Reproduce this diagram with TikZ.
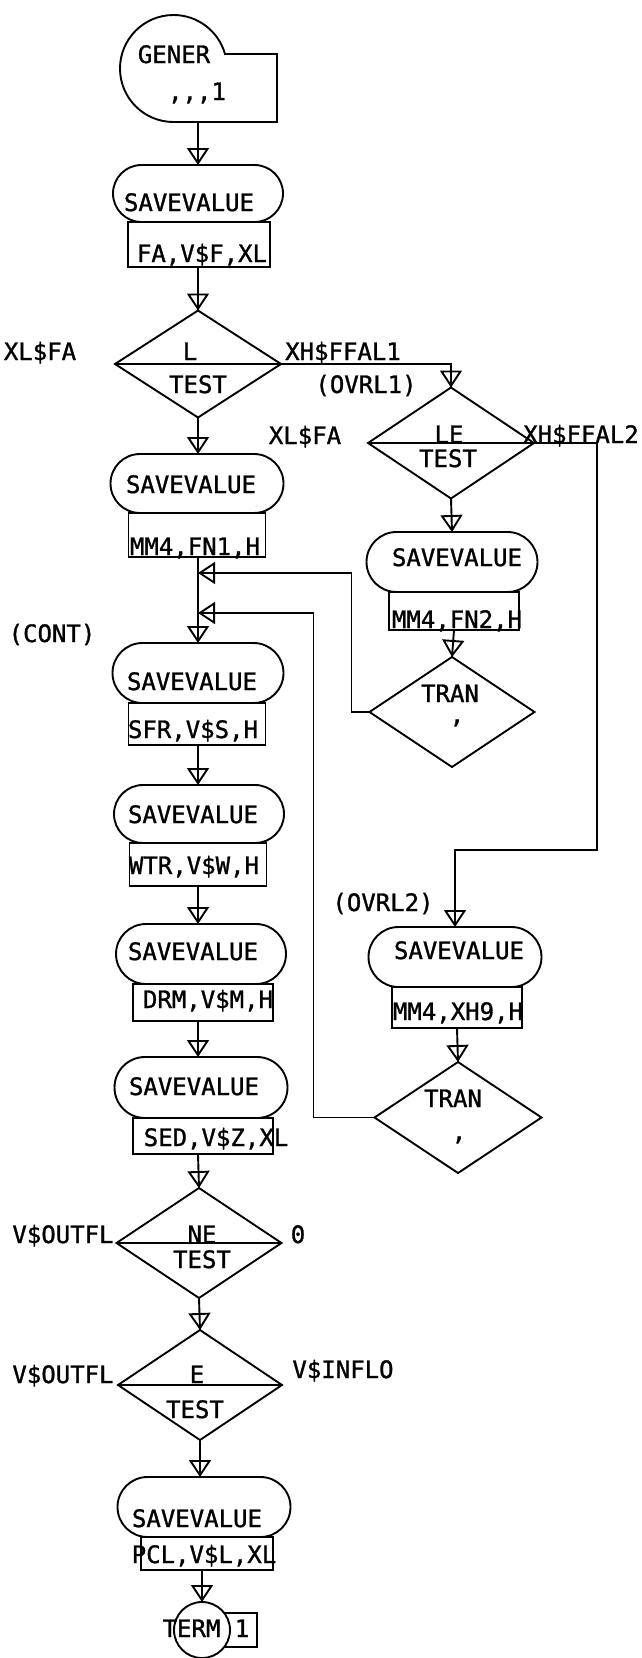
\documentclass[tikz,border=0pt]{standalone}
\usepackage{fontspec}
\newfontfamily\gpssfont[FakeBold=1.2]{DejaVu Sans Mono}
\usetikzlibrary{shapes.geometric,shapes.misc,arrows.meta,decorations.markings}

\begin{document}
\begin{tikzpicture}[x=1pt,y=-1pt,line width=1.9pt,
  every node/.style={inner sep=0pt,outer sep=0pt},
  savebox/.style={draw,rounded rectangle,minimum width=171pt,minimum height=59pt},
  opbox/.style={draw,rectangle,minimum width=137pt,minimum height=42pt},
  testbox/.style={draw,diamond,minimum width=166pt,minimum height=110pt},
  txt/.style={font=\gpssfont\fontsize{24}{28}\selectfont,anchor=base},
  flow/.style={postaction={decorate},decoration={markings,
    mark=at position 1 with {\arrow[line width=1.9pt]{Triangle[open,length=17pt,width=22pt]}}}}]
 \useasboundingbox (0,0) rectangle (641,1658);

 % GENERATE block
 \draw (277,122) -- (173.5,122) arc (90:344.3:53.5) -- (277,54) -- cycle;
 \coordinate (gen) at (198,122);
 \node[txt] (t-gen) at (174,63) {GENER};
 \node[txt] (t-gen2) at (197,100) {,,,1};

 % main column
 \coordinate (main) at (198,0);
 \node[savebox,minimum width=170pt,minimum height=57pt] (sv1) at (198,193.5) {};
 \node[opbox,minimum width=142pt,minimum height=45pt] (op1) at (199,244.5) {};
 \node[testbox,minimum height=107pt] (tL) at (198,364) {};
 \node[savebox,minimum width=173pt] (sv2) at (197,483.5) {};
 \node[opbox,minimum height=44pt] (op2) at (197,535) {};
 \node[savebox,minimum height=60pt] (sv3) at (198,673) {};
 \node[opbox] (op3) at (197,724) {};
 \node[savebox,minimum width=170pt,minimum height=58pt] (sv4) at (199,814) {};
 \node[opbox,minimum height=43pt] (op4) at (198,864.5) {};
 \node[savebox,minimum width=170pt,minimum height=60pt] (sv5) at (201,954) {};
 \node[opbox,minimum width=140pt,minimum height=37pt] (op5) at (203,1002.5) {};
 \node[savebox,minimum width=173pt,minimum height=61pt] (sv6) at (201,1087.5) {};
 \node[opbox,minimum width=140pt,minimum height=36pt] (op6) at (203,1136) {};
 \node[testbox,minimum width=165pt] (tNE) at (199,1243) {};
 \node[testbox,minimum width=164pt] (tE) at (200,1385) {};
 \node[savebox,minimum width=173pt,minimum height=60pt] (sv7) at (204,1507) {};
 \node[opbox,minimum width=132pt,minimum height=33pt] (op7) at (207,1553.5) {};
 \node[draw,minimum width=37pt,minimum height=34pt] (one) at (238.5,1630) {};
 \node[draw,circle,fill=white,minimum size=56pt] (term) at (202,1630) {};
 \coordinate (j1) at (198,573);
 \coordinate (j2) at (198,613);

 % OVRL1 and OVRL2 branches
 \node[testbox,minimum height=111pt] (tLE) at (451,443) {};
 \node[savebox,minimum height=60pt] (sv8) at (452,562) {};
 \node[opbox,minimum width=130pt,minimum height=38pt] (op8) at (454,611) {};
 \node[testbox,minimum width=165pt] (tr1) at (452,712) {};
 \coordinate (k1) at (597,850);
 \node[savebox,minimum width=173pt,minimum height=60pt] (sv9) at (455,957) {};
 \node[opbox,minimum width=130pt,minimum height=41pt] (op9) at (457,1007.5) {};
 \node[testbox,minimum width=167pt,minimum height=111pt] (tr2) at (458,1117.5) {};

 \foreach \t in {tL,tLE,tNE,tE}
   \draw (\t.west) -- (\t.east);

 % flow lines
 \draw[flow] (gen) -- (sv1.north -| gen);
 \draw[flow] (op1.south -| main) -- (tL.north);
 \draw[flow] (tL.south) -- (sv2.north -| main);
 \draw[flow] (op2.south -| main) -- (sv3.north -| main);
 \draw[flow] (op3.south -| main) -- (sv4.north -| main);
 \draw[flow] (op4.south -| main) -- (sv5.north -| main);
 \draw[flow] (op5.south -| main) -- (sv6.north -| main);
 \draw[flow] (op6.south -| main) -- (tNE.north);
 \draw[flow] (tNE.south) -- (tE.north);
 \draw[flow] (tE.south) -- (tE.south |- sv7.north);
 \draw[flow] (term.north |- op7.south) -- (term.north);
 \draw[flow] (tL.east) -| (tLE.north);
 \draw[flow] (tLE.south) -- (sv8.north);
 \draw[flow] (op8.south) -- (tr1.north);
 \draw[flow] (tr1.west) -- ++(-18,0) |- (j1);
 \draw[flow] (tLE.east) -| (k1) -| (sv9.north);
 \draw[flow] (op9.south) -- (tr2.north);
 \draw[flow] (tr2.west) -- ++(-61,0) |- (j2);

 % block texts
 \node[txt] (t-sv1) at (189,211) {SAVEVALUE};
 \node[txt] (t-op1) at (202,262) {FA,V\$F,XL};
 \node[txt] (t-xl1) at (40,360) {XL\$FA};
 \node[txt] (t-l) at (190,360) {L};
 \node[txt] (t-xh1) at (343,360) {XH\$FFAL1};
 \node[txt] (t-test1) at (198,393) {TEST};
 \node[txt] (t-ovrl1) at (366,393) {(OVRL1)};
 \node[txt] (t-xl2) at (305,444) {XL\$FA};
 \node[txt] (t-le) at (449,443) {LE};
 \node[txt] (t-xh2) at (581,443) {XH\$FFAL2};
 \node[txt] (t-test2) at (448,467) {TEST};
 \node[txt] (t-sv2) at (191,493) {SAVEVALUE};
 \node[txt] (t-op2) at (195,555) {MM4,FN1,H};
 \node[txt] (t-sv8) at (457,566) {SAVEVALUE};
 \node[txt] (t-op8) at (457,628) {MM4,FN2,H};
 \node[txt] (t-cont) at (52,642) {(CONT)};
 \node[txt] (t-sv3) at (192,690) {SAVEVALUE};
 \node[txt] (t-tr1) at (450,702) {TRAN};
 \node[txt] (t-tr1b) at (457,723) {,};
 \node[txt] (t-op3) at (193,738) {SFR,V\$S,H};
 \node[txt] (t-sv4) at (193,823) {SAVEVALUE};
 \node[txt] (t-op4) at (194,874) {WTR,V\$W,H};
 \node[txt] (t-ovrl2) at (383,911) {(OVRL2)};
 \node[txt] (t-sv9) at (459,959) {SAVEVALUE};
 \node[txt] (t-sv5) at (193,960) {SAVEVALUE};
 \node[txt] (t-op5) at (208,1008) {DRM,V\$M,H};
 \node[txt] (t-op9) at (458,1020) {MM4,XH9,H};
 \node[txt] (t-sv6) at (194,1095) {SAVEVALUE};
 \node[txt] (t-tr2) at (453,1107) {TRAN};
 \node[txt] (t-tr2b) at (459,1140) {,};
 \node[txt] (t-op6) at (216,1146) {SED,V\$Z,XL};
 \node[txt] (t-out1) at (63,1243) {V\$OUTFL};
 \node[txt] (t-ne) at (202,1243) {NE};
 \node[txt] (t-zero) at (298,1243) {0};
 \node[txt] (t-test3) at (202,1268) {TEST};
 \node[txt] (t-out2) at (63,1383) {V\$OUTFL};
 \node[txt] (t-e) at (197,1383) {E};
 \node[txt] (t-inflo) at (343,1378) {V\$INFLO};
 \node[txt] (t-test4) at (195,1418) {TEST};
 \node[txt] (t-sv7) at (197,1527) {SAVEVALUE};
 \node[txt] (t-op7) at (204,1563) {PCL,V\$L,XL};
 \node[txt] (t-term) at (191.5,1637) {TERM};
 \node[txt] (t-one) at (242,1637) {1};
\end{tikzpicture}
\end{document}
